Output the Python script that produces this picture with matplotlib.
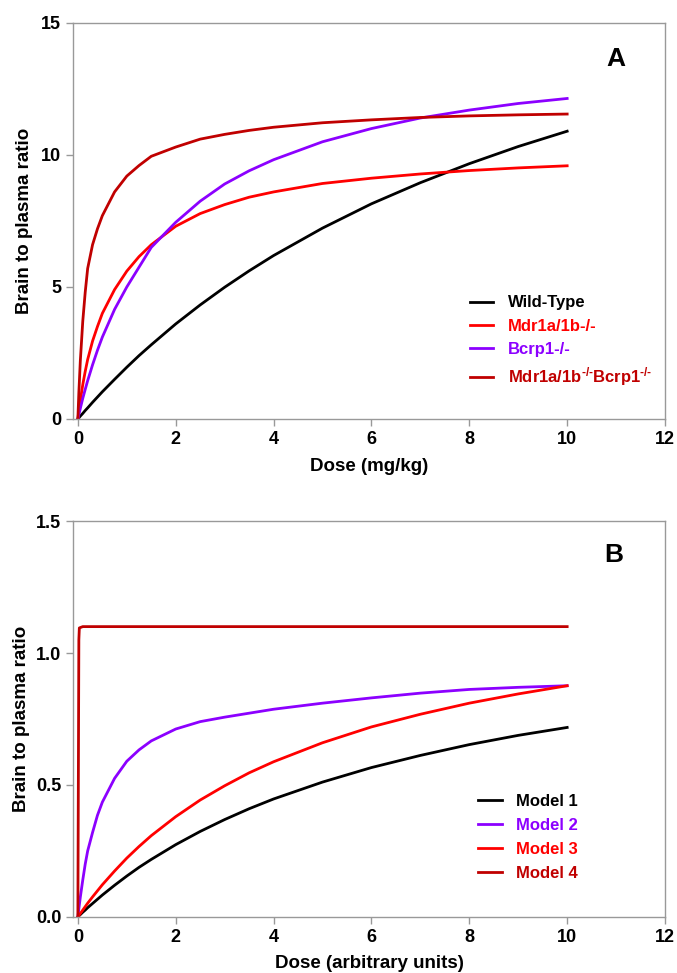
import matplotlib
matplotlib.use("Agg")
import matplotlib.pyplot as plt

plt.rcParams['font.family'] = ['Liberation Sans', 'DejaVu Sans']
plt.rcParams['font.weight'] = 'bold'
plt.rcParams['mathtext.fontset'] = 'custom'
plt.rcParams['mathtext.rm'] = 'Liberation Sans:bold'
plt.rcParams['mathtext.bf'] = 'Liberation Sans:bold'
plt.rcParams['mathtext.default'] = 'bf'

# dose grid shared by the curves
dose = [0, 0.02, 0.05, 0.1, 0.15, 0.2, 0.3, 0.4, 0.5, 0.75, 1, 1.25, 1.5, 2, 2.5, 3, 3.5, 4, 5, 6, 7, 8, 9, 10]

# panel A: brain to plasma ratio vs dose (mg/kg)
wild_type = [0, 0.04, 0.11, 0.21, 0.32, 0.42, 0.63, 0.83, 1.03, 1.50, 1.96, 2.40, 2.81, 3.60, 4.32, 4.99,
             5.61, 6.19, 7.23, 8.15, 8.95, 9.67, 10.32, 10.90]
mdr1 = [0, 0.3, 0.7, 1.3, 1.8, 2.25, 2.95, 3.5, 4.0, 4.9, 5.6, 6.15, 6.6, 7.3, 7.78, 8.12,
        8.4, 8.6, 8.92, 9.12, 9.28, 9.41, 9.51, 9.59]
bcrp1 = [0, 0.16, 0.4, 0.78, 1.12, 1.45, 2.05, 2.6, 3.1, 4.15, 5.0, 5.75, 6.5, 7.45, 8.25, 8.9,
         9.4, 9.82, 10.5, 11.0, 11.4, 11.7, 11.95, 12.14]
double_ko = [0, 1.0, 2.2, 3.7, 4.8, 5.7, 6.6, 7.2, 7.7, 8.6, 9.2, 9.6, 9.95, 10.3, 10.6, 10.78,
             10.93, 11.05, 11.22, 11.33, 11.42, 11.48, 11.52, 11.55]

# panel B: model curves vs dose (arbitrary units)
model1 = [0, 0.004, 0.009, 0.018, 0.026, 0.035, 0.051, 0.067, 0.083, 0.12, 0.155, 0.188, 0.218, 0.274,
          0.324, 0.369, 0.41, 0.447, 0.511, 0.566, 0.612, 0.653, 0.688, 0.718]
model2 = [0, 0.031, 0.075, 0.14, 0.2, 0.25, 0.32, 0.385, 0.435, 0.525, 0.59, 0.633, 0.667, 0.712,
          0.74, 0.757, 0.772, 0.787, 0.81, 0.83, 0.848, 0.862, 0.87, 0.876]
model3 = [0, 0.005, 0.013, 0.026, 0.039, 0.052, 0.076, 0.099, 0.122, 0.174, 0.223, 0.267, 0.308, 0.38,
          0.443, 0.497, 0.546, 0.588, 0.66, 0.72, 0.768, 0.81, 0.845, 0.876]
model4_dose = [0, 0.02, 0.03, 0.1, 10]
model4 = [0, 1.05, 1.095, 1.1, 1.1]

BLACK = '#000000'
RED = '#ff0000'
PURPLE = '#8c00ff'
DARKRED = '#c00000'
GRAY = '#999999'

fig = plt.figure(figsize=(6.77, 9.73), dpi=100)
axA = fig.add_axes([0.1078, 0.5694, 0.8745, 0.4070])
axB = fig.add_axes([0.1078, 0.0576, 0.8745, 0.4069])


def style(ax, ylim, yticks, ytl, xlabel, letter, lpos, ypad):
    ax.set_xlim(-0.1, 12)
    ax.set_ylim(*ylim)
    ax.set_xticks([0, 2, 4, 6, 8, 10, 12])
    ax.set_yticks(yticks)
    ax.set_yticklabels(ytl)
    for s in ax.spines.values():
        s.set_color(GRAY)
        s.set_linewidth(1.0)
    ax.tick_params(colors=GRAY, labelcolor='black', labelsize=13, length=5, width=1, direction='out')
    for t in ax.get_xticklabels() + ax.get_yticklabels():
        t.set_fontweight('bold')
    ax.set_xlabel(xlabel, fontsize=13.5, fontweight='bold', labelpad=7)
    ax.set_ylabel('Brain to plasma ratio', fontsize=13.5, fontweight='bold', labelpad=ypad)
    ax.text(lpos[0], lpos[1], letter, transform=ax.transAxes, fontsize=19, fontweight='bold',
            ha='center', va='center')


lw = 2.0
axA.plot(dose, wild_type, color=BLACK, lw=lw, label='Wild-Type')
axA.plot(dose, mdr1, color=RED, lw=lw, label='Mdr1a/1b-/-')
axA.plot(dose, bcrp1, color=PURPLE, lw=lw, label='Bcrp1-/-')
axA.plot(dose, double_ko, color=DARKRED, lw=lw, label=r'Mdr1a/1b$^{\text{-/-}}$Bcrp1$^{\text{-/-}}$')
style(axA, (0, 15), [0, 5, 10, 15], ['0', '5', '10', '15'], 'Dose (mg/kg)', 'A', (0.917, 0.908), 6)
axA.legend(loc='upper left', bbox_to_anchor=(0.682, 0.705), bbox_transform=fig.transFigure,
           frameon=False, handlelength=1.4, handletextpad=0.85, labelspacing=0.5,
           borderpad=0, labelcolor='linecolor', prop={'weight': 'bold', 'size': 12})

axB.plot(dose, model1, color=BLACK, lw=lw, label='Model 1')
axB.plot(dose, model2, color=PURPLE, lw=lw, label='Model 2')
axB.plot(dose, model3, color=RED, lw=lw, label='Model 3')
axB.plot(model4_dose, model4, color=DARKRED, lw=lw, label='Model 4')
style(axB, (0, 1.5), [0, 0.5, 1.0, 1.5], ['0.0', '0.5', '1.0', '1.5'], 'Dose (arbitrary units)', 'B',
      (0.914, 0.914), 4)
axB.legend(loc='upper left', bbox_to_anchor=(0.694, 0.193), bbox_transform=fig.transFigure,
           frameon=False, handlelength=1.4, handletextpad=0.85, labelspacing=0.55,
           borderpad=0, labelcolor='linecolor', prop={'weight': 'bold', 'size': 12})

fig.savefig('out.png', dpi=100)
